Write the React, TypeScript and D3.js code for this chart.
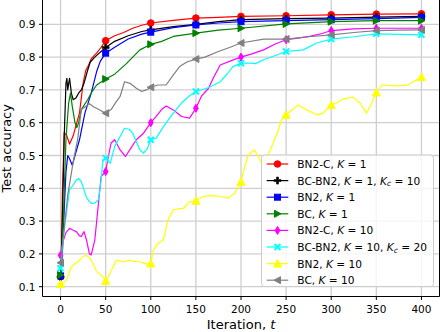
import React from "react";
import * as d3 from "d3";

// iteration ticks and marker positions
const xTicks = [0, 50, 100, 150, 200, 250, 300, 350, 400];
const yTicks = [0.1, 0.2, 0.3, 0.4, 0.5, 0.6, 0.7, 0.8, 0.9];
const markIters = [0, 50, 100, 150, 200, 250, 300, 350, 400];

// [iteration, test accuracy]
const bn2cK1 = [[0,0.13],[1,0.2],[2,0.38],[4,0.57],[7,0.56],[10,0.535],[14,0.56],[18,0.6],[21,0.63],[25,0.72],[28,0.76],[31,0.775],[34,0.795],[40,0.812],[45,0.83],[50,0.85],[60,0.865],[70,0.875],[80,0.888],[90,0.897],[100,0.904],[125,0.912],[150,0.919],[175,0.921],[200,0.924],[250,0.926],[300,0.929],[350,0.931],[400,0.932]];
const bcbn2K1 = [[0,0.13],[2,0.3],[4,0.55],[6,0.72],[7,0.735],[8,0.7],[9,0.72],[10,0.735],[12,0.69],[14,0.67],[17,0.675],[20,0.69],[23,0.7],[26,0.72],[30,0.76],[33,0.785],[38,0.8],[44,0.815],[50,0.829],[60,0.848],[75,0.865],[90,0.878],[100,0.883],[125,0.893],[150,0.9],[175,0.908],[200,0.914],[250,0.917],[300,0.919],[350,0.922],[400,0.924]];
const bn2K1 = [[0,0.133],[2,0.2],[4,0.33],[6,0.45],[8,0.5],[10,0.49],[13,0.47],[16,0.5],[21,0.548],[27,0.629],[34,0.69],[40,0.756],[44,0.787],[50,0.812],[60,0.83],[75,0.855],[90,0.87],[100,0.876],[125,0.89],[150,0.898],[175,0.904],[200,0.908],[250,0.911],[300,0.914],[350,0.917],[400,0.921]];
const bcK1 = [[0,0.136],[3,0.3],[6,0.55],[9,0.66],[11,0.69],[13,0.65],[16,0.6],[18,0.585],[20,0.6],[23,0.64],[30,0.67],[35,0.695],[40,0.715],[50,0.733],[60,0.748],[73,0.78],[80,0.8],[88,0.822],[100,0.839],[112,0.848],[125,0.863],[150,0.873],[175,0.882],[200,0.888],[250,0.901],[300,0.908],[350,0.911],[400,0.911]];
const bn2cK10 = [[0,0.196],[3,0.24],[6,0.265],[10,0.278],[14,0.272],[17.5,0.268],[21,0.255],[23,0.253],[26,0.268],[29,0.24],[32,0.2],[34,0.197],[38,0.243],[42,0.354],[45,0.436],[50,0.451],[53,0.497],[56,0.538],[60,0.548],[66,0.517],[72,0.497],[79,0.527],[84,0.548],[92,0.568],[100,0.6],[106,0.619],[112,0.64],[117,0.651],[125,0.639],[134,0.619],[143,0.614],[150,0.644],[156,0.68],[164,0.705],[170,0.74],[177,0.776],[190,0.79],[200,0.8],[212,0.81],[225,0.822],[238,0.84],[250,0.853],[263,0.858],[276,0.863],[290,0.872],[300,0.881],[325,0.886],[350,0.888],[375,0.888],[400,0.888]];
const bcbn2K10 = [[0,0.156],[2,0.22],[5,0.293],[10,0.395],[14,0.41],[17.5,0.425],[20,0.43],[23,0.42],[29,0.37],[34,0.354],[38,0.355],[42,0.365],[45,0.425],[47,0.487],[50,0.492],[55,0.476],[60,0.527],[66,0.558],[71,0.583],[76,0.58],[80,0.568],[88,0.517],[92,0.507],[96,0.52],[100,0.548],[106,0.553],[114,0.588],[125,0.629],[134,0.66],[142,0.68],[150,0.695],[162,0.705],[170,0.715],[177,0.725],[185,0.75],[191,0.771],[200,0.781],[208,0.782],[216,0.78],[225,0.792],[238,0.805],[250,0.817],[260,0.82],[269,0.822],[284,0.843],[300,0.855],[325,0.862],[350,0.871],[375,0.869],[400,0.868]];
const bn2K10 = [[0,0.108],[3,0.112],[6.6,0.12],[9,0.14],[12,0.161],[16,0.17],[19.5,0.176],[24,0.19],[28,0.197],[32.5,0.187],[36,0.17],[40,0.146],[45,0.136],[48,0.125],[50,0.118],[53,0.13],[56.5,0.151],[62,0.181],[66,0.178],[71,0.176],[75,0.181],[80,0.178],[88,0.176],[95,0.169],[100,0.171],[103,0.212],[108,0.232],[114,0.243],[119,0.303],[125,0.334],[130,0.337],[136,0.339],[143,0.359],[150,0.362],[158,0.375],[165,0.377],[173,0.377],[177,0.375],[186,0.37],[193,0.385],[200,0.42],[204,0.466],[208,0.5],[212,0.512],[215,0.517],[219,0.497],[223,0.476],[228,0.49],[233,0.52],[240,0.568],[245,0.609],[250,0.624],[257,0.64],[263.5,0.654],[273,0.639],[284,0.624],[291,0.629],[300,0.654],[306,0.66],[313,0.672],[324,0.678],[332,0.66],[339,0.629],[345,0.66],[350,0.692],[356,0.715],[366,0.713],[376,0.712],[385,0.715],[391,0.725],[400,0.739]];
const bcK10 = [[0,0.173],[3,0.25],[8,0.38],[14,0.48],[19,0.55],[23,0.64],[29,0.652],[32,0.658],[37,0.648],[44,0.638],[50,0.629],[56,0.64],[62,0.665],[66,0.68],[71,0.725],[77,0.72],[84,0.705],[90,0.695],[95,0.7],[100,0.708],[108,0.715],[117,0.715],[125,0.746],[132,0.771],[140,0.785],[150,0.794],[160,0.8],[175,0.817],[188,0.83],[200,0.843],[225,0.855],[250,0.855],[275,0.862],[300,0.868],[325,0.875],[350,0.881],[375,0.882],[400,0.883]];

const series = [
  { name: "BN2-C", k: "1", kc: null, color: "#ff0000", marker: "o", data: bn2cK1 },
  { name: "BC-BN2", k: "1", kc: "10", color: "#000000", marker: "P", data: bcbn2K1 },
  { name: "BN2", k: "1", kc: null, color: "#0000ff", marker: "s", data: bn2K1 },
  { name: "BC", k: "1", kc: null, color: "#008000", marker: ">", data: bcK1 },
  { name: "BN2-C", k: "10", kc: null, color: "#ff00ff", marker: "d", data: bn2cK10 },
  { name: "BC-BN2", k: "10", kc: "20", color: "#00ffff", marker: "x", data: bcbn2K10 },
  { name: "BN2", k: "10", kc: null, color: "#ffff00", marker: "^", data: bn2K10 },
  { name: "BC", k: "10", kc: null, color: "#808080", marker: "<", data: bcK10 },
];

const FONT = "DejaVu Sans, Verdana, sans-serif";

function Marker({ type, x, y, color }) {
  const t = `translate(${x},${y})`;
  switch (type) {
    case "o":
      return <circle cx={x} cy={y} r={3.3} fill={color} stroke={color} strokeWidth={1} />;
    case "s":
      return <rect x={x - 3} y={y - 3} width={6} height={6} fill={color} stroke={color} strokeWidth={1} />;
    case "P":
      return <path transform={t} d="M-1,-3.5H1V-1H3.5V1H1V3.5H-1V1H-3.5V-1H-1Z" fill={color} stroke={color} strokeWidth={0.6} />;
    case ">":
      return <path transform={t} d="M3.5,0L-3,-3.5L-3,3.5Z" fill={color} stroke={color} strokeWidth={1} />;
    case "<":
      return <path transform={t} d="M-3.5,0L3,-3.5L3,3.5Z" fill={color} stroke={color} strokeWidth={1} />;
    case "^":
      return <path transform={t} d="M0,-4L-4,3.5L4,3.5Z" fill={color} stroke={color} strokeWidth={1} />;
    case "d":
      return <path transform={t} d="M0,-4L2.4,0L0,4L-2.4,0Z" fill={color} stroke={color} strokeWidth={1} />;
    case "x":
      return <path transform={t} d="M-3,-3L3,3M-3,3L3,-3" fill="none" stroke={color} strokeWidth={2} />;
    default:
      return null;
  }
}

function LegendLabel({ s, x, y }) {
  return (
    <text x={x} y={y} fontFamily={FONT} fontSize={10.6} fill="#000" dominantBaseline="central">
      <tspan>{s.name}, </tspan>
      <tspan fontStyle="italic">K</tspan>
      <tspan> = {s.k}</tspan>
      {s.kc && (
        <>
          <tspan>, </tspan>
          <tspan fontStyle="italic">K</tspan>
          <tspan fontStyle="italic" fontSize={7.5} dy={2.5}>c</tspan>
          <tspan dy={-2.5}> = {s.kc}</tspan>
        </>
      )}
    </text>
  );
}

export default function App() {
  const W = 441;
  const H = 332;
  const left = 42.5, right = 439.5, top = 0, bottom = 296.5;

  const x = d3.scaleLinear().domain([-20, 420]).range([left, right]);
  const y = d3.scaleLinear().domain([0.1, 0.9]).range([286.7, 24.3]);

  const line = d3.line().x(d => x(d[0])).y(d => y(d[1]));

  const legX = 261.5, legY = 155, legW = 172, legH = 131.5;
  const rowH = 16.6;

  return (
    <svg width={W} height={H} style={{ position: "fixed", left: 0, top: 0, background: "#fff" }}>
      <defs>
        <clipPath id="plot">
          <rect x={left} y={top} width={right - left} height={bottom - top} />
        </clipPath>
      </defs>
      <rect width={W} height={H} fill="#fff" />

      {/* grid */}
      <g stroke="#cfcfcf" strokeWidth={1.3}>
        {xTicks.map(t => <line key={"gx" + t} x1={x(t)} x2={x(t)} y1={top} y2={bottom} />)}
        {yTicks.map(t => <line key={"gy" + t} x1={left} x2={right} y1={y(t)} y2={y(t)} />)}
      </g>

      {/* curves */}
      <g clipPath="url(#plot)">
        {series.map((s, i) => (
          <g key={i}>
            <path d={line(s.data)} fill="none" stroke={s.color} strokeWidth={1.2} strokeLinejoin="round" />
            {s.data.filter(d => markIters.includes(d[0])).map(d => (
              <Marker key={d[0]} type={s.marker} x={x(d[0])} y={y(d[1])} color={s.color} />
            ))}
          </g>
        ))}
      </g>

      {/* spines */}
      <g stroke="#000" strokeWidth={1} fill="none">
        <line x1={left} x2={left} y1={top} y2={bottom} />
        <line x1={left} x2={right} y1={bottom} y2={bottom} />
        <line x1={right} x2={right} y1={top} y2={bottom} />
      </g>

      {/* x axis */}
      {xTicks.map(t => (
        <g key={"xt" + t}>
          <line x1={x(t)} x2={x(t)} y1={bottom} y2={bottom + 3.5} stroke="#000" />
          <text x={x(t)} y={312.5} textAnchor="middle" fontFamily={FONT} fontSize={10.5}>{t}</text>
        </g>
      ))}
      {/* y axis */}
      {yTicks.map(t => (
        <g key={"yt" + t}>
          <line x1={left - 3.5} x2={left} y1={y(t)} y2={y(t)} stroke="#000" />
          <text x={35.5} y={y(t)} textAnchor="end" dominantBaseline="central" fontFamily={FONT} fontSize={10.5}>{t.toFixed(1)}</text>
        </g>
      ))}

      <text x={(left + right) / 2} y={329} textAnchor="middle" fontFamily={FONT} fontSize={13}>
        Iteration, <tspan fontStyle="italic">t</tspan>
      </text>
      <text transform={`translate(11,${(top + bottom) / 2}) rotate(-90)`} textAnchor="middle" fontFamily={FONT} fontSize={13}>
        Test accuracy
      </text>

      {/* legend */}
      <rect x={legX} y={legY} width={legW} height={legH} rx={3} fill="#fff" fillOpacity={0.8} stroke="#cccccc" />
      {series.map((s, i) => {
        const cy = legY + 9 + i * rowH;
        return (
          <g key={"lg" + i}>
            <line x1={266.7} x2={288.3} y1={cy} y2={cy} stroke={s.color} strokeWidth={1.2} />
            <Marker type={s.marker} x={277.5} y={cy} color={s.color} />
            <LegendLabel s={s} x={297.3} y={cy} />
          </g>
        );
      })}
    </svg>
  );
}
